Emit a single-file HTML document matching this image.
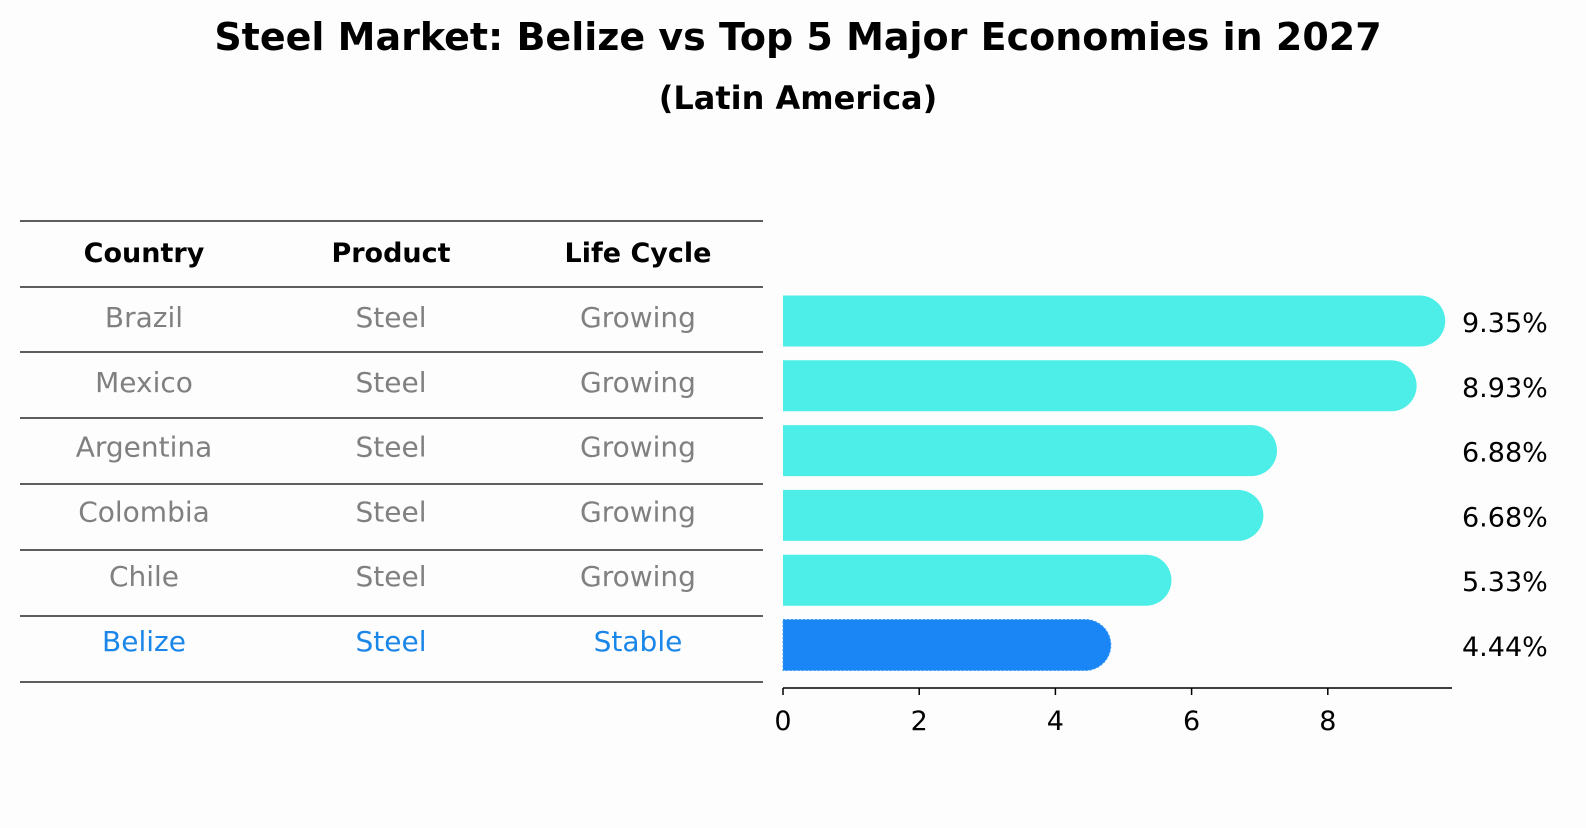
<!DOCTYPE html>
<html><head><meta charset="utf-8"><style>
body{margin:0;background:#fdfdfd;font-family:"Liberation Sans","DejaVu Sans",sans-serif}
</style></head><body>
<svg width="1586" height="823" xmlns="http://www.w3.org/2000/svg" font-family="DejaVu Sans, Liberation Sans, sans-serif">
<rect width="1586" height="823" fill="#fdfdfd"/>
<text x="798" y="50" text-anchor="middle" font-size="38" font-weight="bold">Steel Market: Belize vs Top 5 Major Economies in 2027</text>
<text x="798" y="109" text-anchor="middle" font-size="32" font-weight="bold">(Latin America)</text>
<g id="table"></g>
<g id="bars"></g>
</svg>
<script>
const countries=["Brazil","Mexico","Argentina","Colombia","Chile","Belize"];
const products=["Steel","Steel","Steel","Steel","Steel","Steel"];
const lifecycles=["Growing","Growing","Growing","Growing","Growing","Stable"];
const values=[9.35,8.93,6.88,6.68,5.33,4.44];
const ticks=[0,2,4,6,8];
const NS="http://www.w3.org/2000/svg";
function mk(t,a,p){const e=document.createElementNS(NS,t);for(const k in a)e.setAttribute(k,a[k]);p.appendChild(e);return e;}
const x=v=>783+v*68.1;
const rowY=i=>321+i*64.8;
const tb=document.getElementById('table');
const lines=[221,287,352,418,484,550,616,682];
lines.forEach(y=>{const l=mk('line',{x1:20,x2:763,y1:y,y2:y,stroke:'#000','stroke-width':1.2},tb);

});
const cx=[144,391,638];
["Country","Product","Life Cycle"].forEach((h,j)=>{const t=mk('text',{x:cx[j],y:262,'text-anchor':'middle','font-size':27,'font-weight':'bold'},tb);t.textContent=h;

});
countries.forEach((c,i)=>{const col=i===5?'#1a86e8':'#808080';const y=rowY(i)+6;
[c,products[i],lifecycles[i]].forEach((s,j)=>{const t=mk('text',{x:cx[j],y:y,'text-anchor':'middle','font-size':28,fill:col},tb);t.textContent=s;

});});
const g=document.getElementById('bars');
const h=51,r=25.5;
values.forEach((v,i)=>{const yc=rowY(i),x0=x(0),x1=x(v);const col=i===5?'#1a86f5':'#4deee8';
const p=mk('path',{d:`M${x0},${yc-h/2} H${x1} A${r},${r} 0 0 1 ${x1},${yc+h/2} H${x0} Z`,fill:col},g);
if(i===5){p.setAttribute('stroke','#3a9af7');p.setAttribute('stroke-dasharray','2,2');}


const t=mk('text',{x:1462,y:yc+11,'font-size':27},g);t.textContent=v.toFixed(2)+'%';

});
const ax=mk('line',{x1:783,x2:1452,y1:688,y2:688,stroke:'#000','stroke-width':1.5},g);


ticks.forEach(v=>{const tk=mk('line',{x1:x(v),x2:x(v),y1:688,y2:695,stroke:'#000','stroke-width':1.5},g);


const t=mk('text',{x:x(v),y:730,'text-anchor':'middle','font-size':27},g);t.textContent=v;

});
</script>
</body></html>
